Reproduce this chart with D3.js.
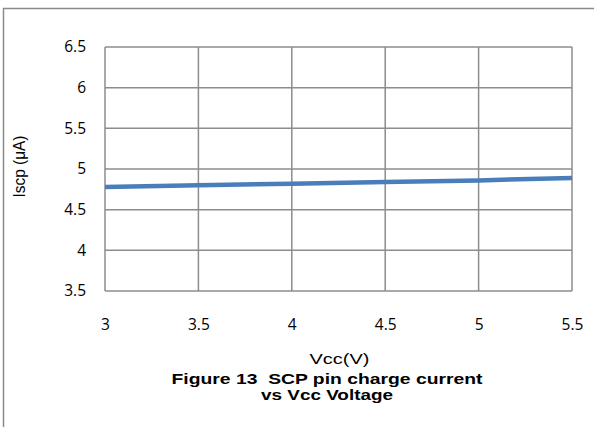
<!DOCTYPE html>
<html>
<head>
<meta charset="utf-8">
<script src="https://cdn.jsdelivr.net/npm/d3@7"></script>
<style>
  body { margin: 0; background: #fff; }
  .tick text { font-family: "Open Sans", "Liberation Sans", sans-serif; font-size: 15.5px; fill: #000; }
</style>
</head>
<body>
<div id="chart"></div>
<script>
// data
var vcc = [3, 3.5, 4, 4.5, 5, 5.5];
var iscp = [4.78, 4.80, 4.82, 4.84, 4.86, 4.89];
var xTicks = [3, 3.5, 4, 4.5, 5, 5.5];
var yTicks = [3.5, 4, 4.5, 5, 5.5, 6, 6.5];

var W = 594, H = 427;
var margin = {top: 47, right: 22, bottom: 136, left: 105},
    width = W - margin.left - margin.right,
    height = H - margin.top - margin.bottom;

var svg = d3.select("#chart").append("svg")
  .attr("width", W)
  .attr("height", H);

// outer frame (only top and left visible)
svg.append("path")
  .attr("d", "M3.5," + H + "V8.5H" + W)
  .attr("fill", "none")
  .attr("stroke", "#8a8a8a")
  .attr("stroke-width", 1.5);

var g = svg.append("g")
  .attr("transform", "translate(" + margin.left + "," + margin.top + ")");

var x = d3.scaleLinear().domain([3, 5.5]).range([0, width]);
var y = d3.scaleLinear().domain([3.5, 6.5]).range([height, 0]);

// grid
g.selectAll(".vgrid").data(xTicks).join("line")
  .attr("x1", d => x(d)).attr("x2", d => x(d))
  .attr("y1", 0).attr("y2", height)
  .attr("stroke", "#8c8c8c").attr("stroke-width", 1.5);
g.selectAll(".hgrid").data(yTicks).join("line")
  .attr("x1", 0).attr("x2", width)
  .attr("y1", d => y(d)).attr("y2", d => y(d))
  .attr("stroke", "#8c8c8c").attr("stroke-width", 1.5);

// axes (labels only)
g.append("g")
  .attr("transform", "translate(0," + height + ")")
  .call(d3.axisBottom(x).tickValues(xTicks).tickSize(0).tickPadding(28).tickFormat(d3.format("")))
  .call(a => a.select(".domain").remove());

g.append("g")
  .call(d3.axisLeft(y).tickValues(yTicks).tickSize(0).tickPadding(19).tickFormat(d3.format("")))
  .call(a => a.select(".domain").remove());

// series
var pts = vcc.map((v, i) => [v, iscp[i]]);
g.append("path")
  .datum(pts)
  .attr("fill", "none")
  .attr("stroke", "#4a7ebb")
  .attr("stroke-width", 4.5)
  .attr("d", d3.line().x(d => x(d[0])).y(d => y(d[1])));

// axis titles
svg.append("text")
  .attr("transform", "translate(25," + 166.5 + ") rotate(-90)")
  .attr("text-anchor", "middle")
  .attr("textLength", 62)
  .attr("lengthAdjust", "spacingAndGlyphs")
  .style("font-family", "Liberation Sans, Arial, sans-serif")
  .style("font-size", "16px")
  .text("Iscp (μA)");

svg.append("text")
  .attr("x", 339.5).attr("y", 364)
  .attr("text-anchor", "middle")
  .attr("textLength", 60)
  .attr("lengthAdjust", "spacingAndGlyphs")
  .style("font-family", "Liberation Sans, Arial, sans-serif")
  .style("font-size", "15px")
  .text("Vcc(V)");

var title = svg.append("text")
  .attr("text-anchor", "middle")
  .style("font-family", "Liberation Sans, Arial, sans-serif")
  .style("font-size", "15.5px")
  .style("font-weight", "bold");
title.append("tspan").attr("x", 327).attr("y", 384)
  .attr("textLength", 311).attr("lengthAdjust", "spacingAndGlyphs")
  .text("Figure 13\u00a0 SCP pin charge current");
title.append("tspan").attr("x", 327).attr("y", 400)
  .attr("textLength", 132).attr("lengthAdjust", "spacingAndGlyphs")
  .text("vs Vcc Voltage");
</script>
</body>
</html>
